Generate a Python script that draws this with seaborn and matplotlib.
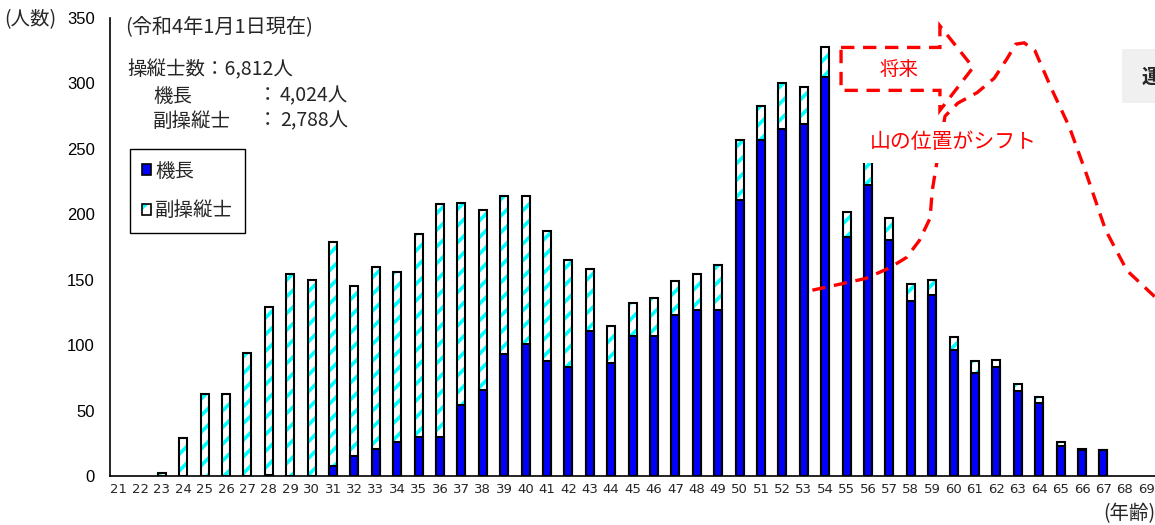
import numpy as np
import pandas as pd
import matplotlib
matplotlib.use("Agg")
import matplotlib.pyplot as plt
import matplotlib.ticker as mticker
from matplotlib.patches import Patch, Polygon, Rectangle
import seaborn as sns

# ---- data: pilots by age (as of 1 Jan, Reiwa 4) ----
ages = list(range(21, 70))
captains = [0, 0, 0, 0, 0, 0, 0, 1, 0, 0,
            8, 15, 21, 26, 30, 30, 54, 66, 93, 101,
            88, 83, 111, 86, 107, 107, 123, 127, 127, 211,
            257, 265, 269, 305, 183, 222, 180, 134, 138, 96,
            79, 83, 65, 56, 23, 20, 20, 0, 0]
first_officers = [0, 0, 2, 29, 63, 63, 94, 128, 154, 150,
                  171, 130, 139, 130, 155, 178, 155, 137, 121, 113,
                  99, 82, 47, 29, 25, 29, 26, 27, 34, 46,
                  26, 35, 28, 23, 19, 20, 17, 13, 12, 10,
                  9, 6, 5, 4, 3, 1, 0, 0, 0]
y_ticks = [0, 50, 100, 150, 200, 250, 300, 350]

# illustrative future curve (age, pilots) and the "future" arrow outline
future_age = [53.4, 54.8, 55.9, 57.0, 57.8, 58.4, 58.9, 59.0, 59.2,
              59.6, 60.2, 61.1, 61.9, 62.5, 62.9, 63.3, 63.8,
              64.6, 65.4, 66.2, 67.1, 68.1, 69.4]
future_cnt = [142, 147, 151, 159, 167, 180, 197, 218, 238,
              275, 285, 293, 304, 319, 330, 331, 325,
              295, 267, 231, 188, 157, 137]
arrow_age = [54.74, 59.36, 59.36, 60.91, 59.36, 59.36, 54.74]
arrow_cnt = [327.5, 327.5, 344.0, 312.2, 279.4, 294.7, 294.7]

BLUE = "#0000FF"
CYAN = "#00FFFF"
RED = "#FF0000"

sns.set_style("white")
plt.rcParams["font.family"] = ["Noto Sans CJK JP", "DejaVu Sans"]
plt.rcParams["hatch.linewidth"] = 2.6

W, H = 1155, 525
fig = plt.figure(figsize=(W / 100, H / 100), dpi=100)
ax = fig.add_axes([110 / W, (H - 476) / H, 1 - 110 / W, 458 / H])

labels = [str(a) for a in ages]
totals = [c + f for c, f in zip(captains, first_officers)]
df = pd.DataFrame({"age": labels, "captain": captains, "total": totals})
BW = 0.37


def new_patches(before):
    return ax.patches[before:]


# first officers: cyan diagonal stripes over the full stack height
n0 = len(ax.patches)
sns.barplot(data=df, x="age", y="total", order=labels, color="white",
            width=BW, errorbar=None, ax=ax)
for p in new_patches(n0):
    p.set_hatch("//")
    p.set_edgecolor(CYAN)
    p.set_linewidth(0)
    if p.get_height() == 0:
        p.set_visible(False)

# captains: solid blue from zero
n1 = len(ax.patches)
sns.barplot(data=df, x="age", y="captain", order=labels, color=BLUE,
            width=BW, errorbar=None, ax=ax, edgecolor="black", linewidth=1.5,
            saturation=1)
for p in new_patches(n1):
    p.set_facecolor(BLUE)
    if p.get_height() == 0:
        p.set_visible(False)

# black outline around each stack
n2 = len(ax.patches)
sns.barplot(data=df, x="age", y="total", order=labels, color="black",
            width=BW, errorbar=None, ax=ax, fill=False, linewidth=1.5)
for p in new_patches(n2):
    p.set_edgecolor("black")
    p.set_facecolor("none")
    if p.get_height() == 0:
        p.set_visible(False)

# axes styling
ax.set_xlim(-0.42, 48.41)
ax.set_ylim(0, 350)
ax.set_yticks(y_ticks)
ax.set_xlabel("")
ax.set_ylabel("")
for s in ("top", "right"):
    ax.spines[s].set_visible(False)
for s in ("left", "bottom"):
    ax.spines[s].set_color("black")
    ax.spines[s].set_linewidth(1.2)
ax.tick_params(axis="y", direction="in", length=4, width=1, pad=11,
               labelsize=12, colors="black")
ax.tick_params(axis="x", which="major", length=0, pad=5, labelsize=9.5)
ax.xaxis.set_minor_locator(mticker.FixedLocator(np.arange(0.5, 48.6, 1.0)))
ax.tick_params(axis="x", which="minor", direction="in", length=4, width=1,
               colors="black")
for t in ax.get_xticklabels():
    t.set_fontfamily(["Liberation Sans Narrow", "DejaVu Sans"])
for t in ax.get_yticklabels():
    t.set_fontfamily(["Liberation Sans", "DejaVu Sans"])

# legend
h_cap = Patch(facecolor=BLUE, edgecolor="black", linewidth=1.2)
h_fo = (Patch(facecolor="white", edgecolor=CYAN, hatch="//", linewidth=0),
        Patch(facecolor="none", edgecolor="black", linewidth=1.2))
leg = ax.legend([h_cap, h_fo], ["機長", "副操縦士"], loc="upper left",
                bbox_to_anchor=(130 / W, 1 - 149 / H),
                bbox_transform=fig.transFigure, borderaxespad=0,
                fontsize=14, handlelength=0.5, handleheight=0.5,
                handletextpad=0.2, labelspacing=0.95, borderpad=0.6,
                fancybox=False, framealpha=1, edgecolor="black")
leg.get_frame().set_linewidth(1.0)


# annotation text in figure pixels
def fx(x):
    return x / W


def fy(y):
    return 1 - y / H


fig.text(fx(4), fy(20), "(人数)", fontsize=14, va="center", ha="left")
fig.text(fx(125), fy(28), "(令和4年1月1日現在)", fontsize=14.5,
         va="center", ha="left")
fig.text(fx(127), fy(70), "操縦士数：6,812人", fontsize=14,
         va="center", ha="left")
fig.text(fx(153), fy(96), "機長", fontsize=14, va="center", ha="left")
fig.text(fx(258), fy(96), "：", fontsize=14, va="center", ha="left")
fig.text(fx(280), fy(96), "4,024人", fontsize=14, va="center", ha="left")
fig.text(fx(153), fy(121), "副操縦士", fontsize=14, va="center", ha="left")
fig.text(fx(258), fy(121), "：", fontsize=14, va="center", ha="left")
fig.text(fx(280), fy(121), "2,788人", fontsize=14, va="center", ha="left")
fig.text(fx(1103), fy(514), "(年齢)", fontsize=14, va="center", ha="left")

# side box at the right edge
fig.add_artist(Rectangle((fx(1122), fy(103)), fx(60), 54 / H,
                         transform=fig.transFigure, facecolor="#F0F0F0",
                         edgecolor="none", zorder=0.5))
fig.text(fx(1142), fy(77), "運", fontsize=14, fontweight="bold",
         va="center", ha="left")

# red dashed future curve and arrow
x0 = ages[0]
ax.plot([a - x0 for a in future_age], future_cnt, color=RED, lw=2.4,
        ls=(0, (4, 2.6)), clip_on=False, zorder=4)
ax.add_patch(Polygon(np.column_stack([[a - x0 for a in arrow_age], arrow_cnt]),
                     closed=True, fill=False, edgecolor=RED, lw=2.4,
                     ls=(0, (4, 2.6)), clip_on=False, zorder=4))
ax.text((899 - 119) / 21.4, (476 - 69) / 1.31, "将来", color=RED,
        fontsize=14, ha="center", va="center", zorder=6)
ax.text((953 - 119) / 21.4, (476 - 142) / 1.31, "山の位置がシフト", color=RED,
        fontsize=15, ha="center", va="center", zorder=6,
        bbox=dict(boxstyle="square,pad=0.45", facecolor="white",
                  edgecolor="none"))

fig.savefig("out.png", dpi=100)
